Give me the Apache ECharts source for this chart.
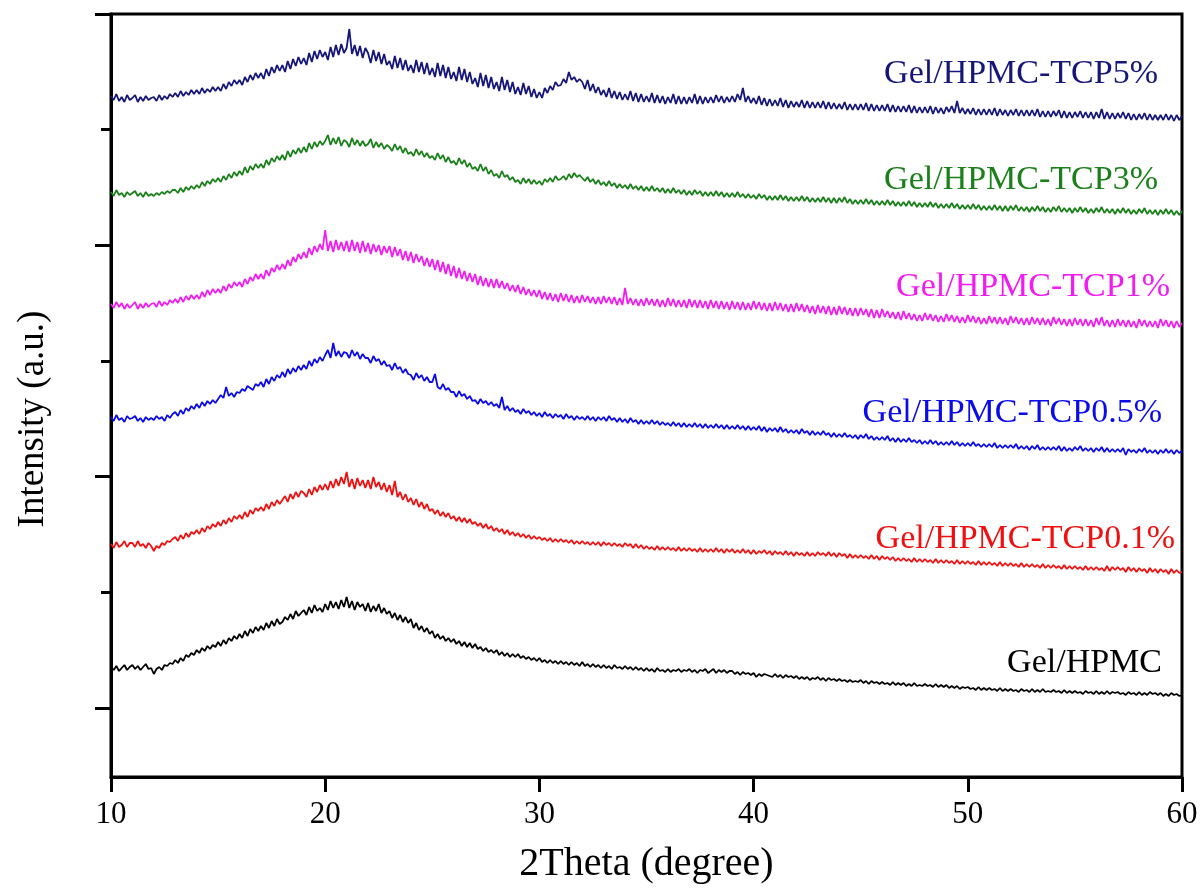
<!DOCTYPE html>
<html>
<head>
<meta charset="utf-8">
<script src="https://cdn.jsdelivr.net/npm/echarts@6/dist/echarts.min.js"></script>
<style>html,body{margin:0;padding:0;background:#fff;}#chart{width:1203px;height:896px;}</style>
</head>
<body>
<div id="chart"></div>
<script>
// 2Theta sampling: start 10 deg, step 0.125 deg (401 points per pattern, 8 per degree)
const twoThetaStart = 10;
const twoThetaStep = 0.125;
const xTickLabels = [10, 20, 30, 40, 50, 60];

const seriesNames = ['Gel/HPMC', 'Gel/HPMC-TCP0.1%', 'Gel/HPMC-TCP0.5%', 'Gel/HPMC-TCP1%', 'Gel/HPMC-TCP3%', 'Gel/HPMC-TCP5%'];
const seriesColors = ['#000000', '#f01010', '#0a0aeb', '#f21cf2', '#1a801a', '#16167a'];

// Intensity (a.u.), stacked patterns as plotted; one row per degree
const gelHPMC = [
41,38,42,37,40,43,38,41, 43,39,42,38,41,44,39,40, 34,39,41,38,43,42,45,44, 48,45,50,47,53,51,55,53,
58,55,60,57,62,59,63,61, 66,62,68,64,70,67,72,69, 74,70,77,72,79,75,81,77, 82,78,85,80,87,82,89,84,
86,91,88,94,89,97,92,95, 98,93,101,95,103,97,100,96, 104,98,107,100,106,99,108,101, 111,100,107,98,106,101,104,97,
105,96,102,97,104,95,100,94, 97,90,95,88,93,86,91,85, 89,80,85,78,82,76,80,74, 77,70,74,69,72,67,70,66,
69,64,67,62,66,61,65,60, 64,59,61,57,60,56,58,55, 58,53,56,52,55,51,54,51, 54,50,52,49,51,48,50,47,
50,46,48,45,48,45,47,44, 47,44,46,43,46,43,45,42, 46,42,44,41,44,41,43,40, 43,40,42,39,43,40,41,39,
42,39,41,38,41,38,40,37, 40,37,39,36,40,37,38,36, 39,36,38,37,39,36,38,37, 39,36,38,35,38,37,39,35,
37,39,35,38,36,38,35,37, 37,34,36,33,36,34,35,33, 35,31,34,32,34,33,32,31, 34,31,33,30,33,31,32,30,
32,29,31,29,31,28,30,29, 31,28,30,27,30,28,29,27, 29,27,28,26,28,26,27,26, 28,25,27,24,27,25,26,24,
26,24,25,23,26,23,25,23, 25,22,24,22,25,22,23,22, 24,22,23,21,24,21,23,21, 23,20,22,20,22,19,21,20,
21,19,20,18,21,18,20,18, 20,18,19,17,20,17,19,17, 19,17,18,16,19,17,18,16, 19,16,18,16,19,16,17,16,
18,16,17,15,18,15,17,15, 17,15,16,14,17,15,16,14, 17,14,16,14,17,14,16,15, 16,14,15,13,16,14,15,13,
16,13,15,13,16,14,15,13, 15,12,14,12,15,13,14,12,
13];

const tcp01 = [
164,160,166,161,163,167,161,165, 165,161,167,162,164,160,165,162, 157,162,160,165,163,167,166,169, 171,167,173,169,175,171,176,174,
178,174,180,176,182,179,184,181, 186,182,188,184,190,186,192,189, 193,189,196,191,198,194,200,197, 201,197,204,199,206,202,208,204,
208,212,206,214,209,216,211,217, 215,211,219,213,221,216,223,218, 224,218,227,220,229,222,231,224, 236,221,229,219,230,222,228,220,
228,219,231,221,226,218,225,216, 223,213,227,211,216,208,214,206, 210,203,209,201,206,199,204,197, 199,194,198,192,196,191,195,189,
192,187,191,186,190,185,189,184, 186,182,185,180,184,179,182,177, 180,176,179,174,178,173,176,172, 175,171,174,170,173,169,172,169,
171,168,170,167,170,166,169,166, 169,166,168,165,168,164,167,164, 167,164,166,163,166,163,166,162, 166,163,165,162,165,162,164,161,
165,162,164,160,164,160,163,159, 162,159,161,158,162,158,161,158, 161,158,160,157,161,157,160,157, 160,157,159,156,160,156,159,156,
159,156,160,156,159,155,159,156, 159,155,158,155,159,155,158,154, 158,154,157,155,158,154,157,153, 157,154,156,153,157,153,156,152,
156,153,155,152,156,152,155,152, 156,153,155,152,156,152,155,151, 155,152,154,150,154,150,153,150, 153,150,152,149,153,149,152,148,
152,149,151,148,151,147,150,147, 150,147,149,146,150,146,149,146, 149,146,148,145,149,145,148,145, 148,145,147,144,148,144,147,144,
147,144,146,143,147,143,146,143, 146,143,145,142,146,142,145,142, 145,142,144,141,145,141,144,141, 144,141,143,140,144,140,143,140,
143,140,142,139,143,139,142,139, 142,139,141,138,142,138,141,138, 141,138,140,137,142,137,141,138, 141,138,140,136,141,137,140,136,
140,137,139,135,140,136,139,135, 139,136,138,134,139,135,138,135,
136];

const tcp05 = [
291,287,293,288,290,286,292,289, 290,292,287,290,286,291,288,290, 288,292,289,291,287,293,290,294, 296,292,298,294,300,297,302,299,
304,300,306,302,307,304,308,305, 309,313,310,321,312,315,311,316, 315,319,317,322,320,318,324,322, 326,321,329,324,331,327,333,330,
336,331,339,334,340,336,342,338, 343,339,347,342,349,345,351,347, 353,358,350,365,352,357,351,356, 355,350,358,352,356,349,354,350,
350,345,352,347,349,343,347,342, 343,338,345,339,341,335,339,334, 333,328,335,330,333,327,331,326, 326,334,321,319,324,318,320,316,
316,311,317,312,314,309,312,307, 308,304,309,305,307,303,306,302, 304,300,311,298,302,297,300,296, 298,294,299,295,297,293,296,292,
295,291,296,292,294,290,294,291, 293,289,294,290,292,288,292,289, 291,288,292,288,291,287,291,288, 291,287,292,288,290,286,290,286,
289,285,290,286,288,284,288,284, 287,284,288,284,287,283,286,283, 285,282,286,282,285,281,285,281, 284,281,285,281,284,280,284,280,
283,280,284,280,283,279,283,279, 282,279,283,279,282,278,282,278, 281,278,282,277,281,276,280,277, 280,276,281,276,279,275,278,275,
278,274,279,275,277,273,277,273, 276,273,277,273,275,271,275,271, 274,271,275,271,273,270,273,269, 273,270,274,269,272,268,271,268,
271,268,272,267,270,266,270,266, 269,266,270,266,268,265,268,264, 267,264,268,264,267,263,266,263, 266,263,267,263,266,262,265,262,
265,262,266,262,264,261,264,261, 264,261,265,260,263,260,263,260, 263,260,264,259,262,259,262,258, 262,259,263,258,261,258,261,258,
261,258,262,257,261,257,260,257, 261,258,262,257,260,257,260,256, 260,257,261,256,260,256,259,256, 259,256,260,253,259,256,258,255,
259,256,260,255,258,255,258,254, 258,255,259,255,258,254,258,255,
257];

const tcp1 = [
404,400,406,401,405,399,404,400, 403,406,399,404,400,405,401,404, 405,401,407,402,406,403,408,405, 409,405,411,406,412,408,413,409,
413,409,416,411,418,413,419,415, 419,415,422,417,424,420,426,422, 426,421,429,424,431,427,434,429, 434,429,438,432,440,436,443,438,
444,439,448,442,451,446,454,449, 456,450,460,453,462,456,464,458, 478,457,467,456,468,458,466,457, 467,456,468,457,466,455,467,456,
465,454,464,456,463,453,462,455, 462,451,461,452,459,448,457,447, 456,445,454,446,452,442,450,441, 449,438,448,436,446,434,444,432,
442,430,440,429,437,427,435,426, 434,423,432,422,430,421,429,420, 429,420,427,419,425,417,423,416, 423,414,421,413,419,412,418,411,
418,409,416,408,415,407,414,406, 415,407,414,406,413,405,412,405, 413,406,412,405,411,404,411,404, 412,405,411,404,411,403,410,403,
420,404,410,403,409,402,409,402, 410,403,409,402,409,401,408,401, 410,402,409,401,408,401,408,400, 409,401,408,400,408,400,407,399,
408,400,407,399,407,399,406,398, 407,399,406,398,406,398,405,398, 407,399,406,398,405,397,405,397, 406,398,405,397,404,396,404,396,
405,397,404,396,403,395,402,394, 403,395,402,394,402,393,401,393, 402,394,401,393,400,392,400,392, 400,393,399,391,399,390,398,390,
399,391,397,390,396,389,396,388, 397,389,395,388,394,387,393,387, 395,388,394,387,393,386,392,386, 394,387,393,386,392,385,391,385,
393,386,392,385,391,384,390,384, 392,385,391,384,391,384,390,383, 392,385,391,384,390,383,390,383, 391,384,390,383,390,383,389,382,
391,384,390,383,389,382,389,382, 390,383,389,382,389,382,388,381, 390,383,391,382,388,381,388,381, 389,382,388,381,388,381,387,380,
389,382,388,381,387,381,387,380, 389,382,388,381,387,380,387,381,
385];

const tcp3 = [
516,512,518,513,515,511,516,513, 515,517,512,515,511,516,512,514, 512,515,513,516,514,517,515,518, 518,515,520,516,521,518,522,519,
523,520,526,522,527,524,529,526, 530,526,532,528,534,530,536,532, 537,533,541,535,542,538,544,540, 544,540,548,543,550,546,552,548,
553,548,557,551,558,554,560,555, 561,556,565,559,566,561,567,563, 567,573,563,570,564,571,562,568, 566,561,570,563,568,562,567,562,
564,569,560,566,561,565,559,563, 561,557,564,558,562,555,560,554, 556,552,559,553,557,551,555,550, 552,548,555,549,553,546,551,545,
547,543,550,544,548,541,545,539, 541,537,544,537,541,534,538,532, 534,530,537,531,533,528,531,526, 528,524,530,525,529,524,528,524,
527,523,529,526,530,526,532,528, 529,532,528,534,530,535,531,533, 530,527,531,526,529,524,528,523, 526,522,527,522,525,520,524,520,
523,519,524,519,522,518,522,517, 521,517,522,517,520,516,520,515, 519,515,520,515,518,514,518,513, 517,513,518,514,517,512,516,512,
516,512,517,512,516,511,515,511, 515,511,516,511,514,510,514,510, 513,509,514,510,513,508,512,508, 512,508,513,508,512,507,511,507,
511,507,512,507,511,506,510,506, 510,506,511,506,510,505,510,505, 510,506,511,505,509,504,508,504, 508,504,509,504,508,503,507,503,
507,503,508,503,507,502,506,502, 506,502,507,502,506,501,505,501, 505,501,506,501,505,500,504,500, 504,500,505,500,504,499,503,499,
503,499,504,499,503,498,502,498, 502,498,503,498,502,497,502,497, 502,498,503,497,501,497,501,496, 501,497,502,497,501,496,500,496,
501,497,502,496,500,496,500,495, 500,496,501,496,500,495,499,495, 500,496,501,495,499,495,499,494, 499,495,500,495,499,494,498,494,
499,495,500,494,498,494,498,493, 498,494,499,494,498,493,497,493,
497];

const tcp5 = [
612,608,614,607,611,606,613,608, 610,613,606,611,607,612,608,610, 611,607,613,608,612,609,614,611, 615,611,617,612,616,613,618,614,
618,614,620,615,619,616,621,617, 621,617,624,619,626,622,628,624, 628,623,631,626,633,628,635,630, 635,629,639,632,641,635,643,637,
643,636,647,639,649,642,651,644, 650,643,655,646,657,649,658,651, 656,648,661,651,663,653,664,655, 660,679,654,663,652,662,650,660,
655,645,658,647,656,644,654,643, 647,639,652,640,650,638,648,637, 643,635,648,636,646,634,645,633, 640,631,645,632,643,630,641,629,
636,627,641,628,639,626,636,624, 630,621,635,622,633,620,631,619, 626,617,631,618,628,616,626,614, 621,613,625,614,622,611,619,610,
616,610,620,615,622,618,626,622, 623,629,625,636,628,631,626,629, 626,619,628,617,624,615,621,613, 618,611,620,610,617,609,616,608,
614,608,617,607,615,606,614,606, 612,606,615,605,613,605,612,604, 611,605,614,604,612,604,611,604, 611,605,614,604,612,604,611,605,
611,605,613,606,612,605,611,606, 612,606,614,608,620,606,612,605, 610,604,612,603,610,602,609,602, 608,602,610,601,608,600,607,601,
606,601,608,600,607,600,606,600, 606,600,607,599,606,599,605,599, 604,599,606,598,604,598,604,598, 604,598,605,597,604,597,603,597,
603,597,604,596,603,596,602,596, 602,596,603,595,602,595,601,595, 601,595,602,594,601,595,600,594, 601,596,602,595,607,595,600,594,
599,594,600,593,599,593,599,593, 599,593,600,592,599,593,598,592, 598,593,599,592,598,592,598,592, 598,592,599,591,597,591,597,591,
597,592,598,590,597,590,596,590, 596,591,597,590,596,590,596,589, 596,590,599,589,596,589,595,589, 595,590,596,589,595,588,594,588,
594,589,595,588,594,588,593,588, 593,588,594,588,593,587,593,588,
592];

const seriesValues = [gelHPMC, tcp01, tcp05, tcp1, tcp3, tcp5];

// axis ticks (y axis has no labels, only marks)
const yMajorTicks = [0, 231.3, 462.7, 694];
const yMinorTicks = [115.7, 347, 578.3];

const FONT = "'Liberation Serif', 'Times New Roman', 'DejaVu Serif', serif";

const chart = echarts.init(document.getElementById('chart'), null, {renderer: 'canvas'});

const series = seriesValues.map((vals, k) => ({
  name: seriesNames[k],
  type: 'line',
  data: vals.map((v, i) => [twoThetaStart + i * twoThetaStep, v]),
  showSymbol: false,
  symbol: 'none',
  lineStyle: {color: seriesColors[k], width: 1.8},
  itemStyle: {color: seriesColors[k]},
  animation: false,
  silent: true
}));

// series name labels placed next to their curves
const labelPos = [
  {x: 1162, y: 663},
  {x: 1175, y: 539},
  {x: 1162, y: 413},
  {x: 1170, y: 287},
  {x: 1158, y: 180},
  {x: 1158, y: 74}
];

const graphics = seriesNames.map((n, k) => ({
  type: 'text',
  x: labelPos[k].x,
  y: labelPos[k].y,
  style: {
    text: n,
    fill: seriesColors[k],
    fontSize: 34,
    fontFamily: FONT,
    align: 'right',
    verticalAlign: 'middle'
  },
  z: 10
}));

// y axis title
graphics.push({
  type: 'text',
  x: 33,
  y: 419,
  rotation: Math.PI / 2,
  style: {
    text: 'Intensity (a.u.)',
    fill: '#000',
    fontSize: 37,
    fontFamily: FONT,
    align: 'center',
    verticalAlign: 'middle'
  },
  z: 10
});

chart.setOption({
  animation: false,
  backgroundColor: '#ffffff',
  grid: {left: 111, right: 21, top: 14, bottom: 119, show: true, borderColor: '#000', borderWidth: 3, containLabel: false},
  xAxis: {
    type: 'value', min: xTickLabels[0], max: xTickLabels[xTickLabels.length - 1], interval: 10,
    axisLine: {show: true, onZero: false, lineStyle: {color: '#000', width: 3}},
    axisTick: {show: true, length: 15, lineStyle: {color: '#000', width: 3}},
    axisLabel: {fontSize: 31, color: '#000', margin: 22, fontFamily: FONT},
    splitLine: {show: false},
    name: '2Theta (degree)', nameLocation: 'middle', nameGap: 67,
    nameTextStyle: {fontSize: 40, color: '#000', fontFamily: FONT}
  },
  yAxis: [{
    type: 'value', min: -69, max: 694, position: 'left',
    axisLine: {show: true, onZero: false, lineStyle: {color: '#000', width: 3}},
    axisTick: {show: true, length: 16, customValues: yMajorTicks, lineStyle: {color: '#000', width: 3}},
    axisLabel: {show: false},
    splitLine: {show: false}
  }, {
    type: 'value', min: -69, max: 694, position: 'left',
    axisLine: {show: false, onZero: false},
    axisTick: {show: true, length: 10, customValues: yMinorTicks, lineStyle: {color: '#000', width: 3}},
    axisLabel: {show: false},
    splitLine: {show: false}
  }],
  series: series,
  graphic: graphics
});
</script>
</body>
</html>
